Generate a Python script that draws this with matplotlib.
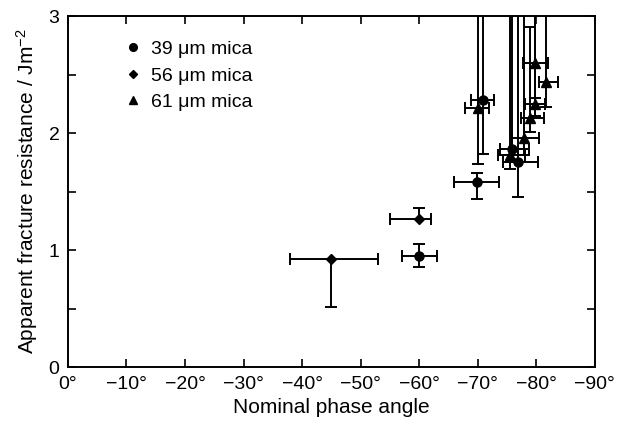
import matplotlib
matplotlib.use('Agg')
import matplotlib.pyplot as plt
from matplotlib.ticker import MultipleLocator

# 39 um mica (circles)
c_x = [-60, -69.8, -70.9, -75.8, -76.8]
c_y = [0.95, 1.58, 2.28, 1.86, 1.75]
c_xerr_lo = [3, 3.8, 1.8, 3, 3.5]
c_xerr_hi = [3, 3.9, 2.1, 2, 2.4]
c_yerr_lo = [0.09, 0.14, 0.46, 0.10, 0.30]
c_yerr_hi = [0.10, 0.08, 1.0, 1.2, 1.3]

# 56 um mica (diamonds)
d_x = [-45, -60]
d_y = [0.92, 1.27]
d_xerr_lo = [8, 2]
d_xerr_hi = [7, 5]
d_yerr_lo = [0.41, 0]
d_yerr_hi = [0, 0.09]

# 61 um mica (triangles)
t_x = [-70.1, -75.5, -77.9, -78.9, -79.8, -79.8, -81.7]
t_y = [2.21, 1.81, 1.96, 2.13, 2.25, 2.60, 2.44]
t_xerr_lo = [1.9, 2.5, 2.5, 2.5, 1.7, 2.2, 2.0]
t_xerr_hi = [2.2, 2.0, 2.0, 1.5, 1.7, 2.0, 1.2]
t_yerr_lo = [0.47, 0.12, 0.15, 0.12, 0.10, 0.3, 0.22]
t_yerr_hi = [1.0, 1.3, 1.2, 0.78, 1.0, 0.6, 0.7]

x_ticks = [0, -10, -20, -30, -40, -50, -60, -70, -80, -90]
x_labels = ['0°', '−10°', '−20°', '−30°', '−40°', '−50°', '−60°', '−70°', '−80°', '−90°']

plt.rcParams['font.family'] = ['Liberation Sans', 'DejaVu Sans']
plt.rcParams['mathtext.default'] = 'regular'

fig = plt.figure(figsize=(6.17, 4.33), dpi=100)
ax = fig.add_axes([0.110, 0.152, 0.854, 0.811])

style = dict(color='black', ecolor='black', elinewidth=1.4, capsize=4, capthick=1.4, linestyle='none')
ax.errorbar(c_x, c_y, xerr=[c_xerr_lo, c_xerr_hi], yerr=[c_yerr_lo, c_yerr_hi],
            fmt='o', markersize=6.5, label='39 μm mica', **style)
ax.errorbar(d_x, d_y, xerr=[d_xerr_lo, d_xerr_hi], yerr=[d_yerr_lo, d_yerr_hi],
            fmt='D', markersize=5, label='56 μm mica', **style)
ax.errorbar(t_x, t_y, xerr=[t_xerr_lo, t_xerr_hi], yerr=[t_yerr_lo, t_yerr_hi],
            fmt='^', markersize=6.5, label='61 μm mica', **style)

ax.set_xlim(0, -90)
ax.set_ylim(0, 3)
ax.set_xticks(x_ticks)
ax.set_xticklabels(x_labels)
ax.set_yticks([0, 1, 2, 3])
ax.yaxis.set_minor_locator(MultipleLocator(0.5))
ax.tick_params(which='both', direction='in', top=True, right=True, labelsize=14, width=1.2)
ax.tick_params(which='major', length=6, pad=6)
ax.tick_params(which='minor', length=6)
for s in ax.spines.values():
    s.set_linewidth(1.4)

ax.set_xlabel('Nominal phase angle', fontsize=15, labelpad=4)
ax.set_ylabel('Apparent fracture resistance / Jm$^{-2}$', fontsize=15, labelpad=6)

handles, labels = ax.get_legend_handles_labels()
handles = [h[0] for h in handles]
ax.legend(handles, labels, loc='upper left', bbox_to_anchor=(0.08, 0.98), frameon=False,
          fontsize=14, handlelength=0.6, handletextpad=0.6, labelspacing=0.45, markerscale=0.85)

fig.savefig('out.png', dpi=100)
